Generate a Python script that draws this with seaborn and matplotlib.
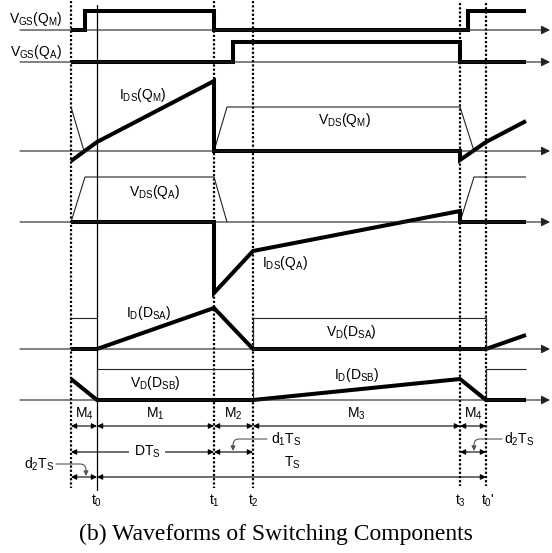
import matplotlib
matplotlib.use("Agg")
import matplotlib.pyplot as plt
import seaborn as sns

# ---- switching instants (time axis) ----
t_prev = 71            # start of the M4 interval of the previous cycle
t0, t1, t2, t3, t0p = 97, 214, 253, 460, 486
t_end = 526
edge_names = ["t_0", "t_1", "t_2", "t_3"]

# ---- waveforms: (time, level above baseline) ----
vgs_qm_t = [71, 85, 85, 214, 214, 468, 468, 526]
vgs_qm_v = [0, 0, 19, 19, 0, 0, 19, 19]

vgs_qa_t = [71, 233, 233, 460, 460, 526]
vgs_qa_v = [0, 0, 20, 20, 0, 0]

ids_qm_t = [71, 97, 214, 214, 460, 460, 486, 526]
ids_qm_v = [-10, 9, 70, 0, 0, -9, 9, 30]

vds_qm_t1 = [71, 84]
vds_qm_v1 = [44, 0]
vds_qm_t2 = [214, 227, 460, 474]
vds_qm_v2 = [0, 44, 44, 0]

vds_qa_t1 = [71, 85, 214, 227]
vds_qa_v1 = [0, 45, 45, 0]
vds_qa_t2 = [460, 474, 526]
vds_qa_v2 = [0, 45, 45]

ids_qa_t = [71, 214, 214, 253, 460, 460, 526]
ids_qa_v = [0, 0, -71, -29, 11, 0, 0]

id_dsa_t = [71, 97, 214, 253, 486, 526]
id_dsa_v = [0, 0, 41, 0, 0, 14]

vd_dsa_t1 = [71, 97]
vd_dsa_v1 = [31, 31]
vd_dsa_t2 = [253, 253, 486, 486]
vd_dsa_v2 = [0, 31, 31, 0]

id_dsb_t = [71, 97, 253, 460, 486, 526]
id_dsb_v = [21, 0, 0, 21, 0, 0]

vd_dsb_t1 = [97, 97, 253, 253]
vd_dsb_v1 = [0, 31, 31, 0]
vd_dsb_t2 = [486, 486, 526]
vd_dsb_v2 = [0, 31, 31]

# ---- style ----
sns.set_theme(style="white")
plt.rcParams["font.family"] = ["Liberation Sans", "DejaVu Sans"]
plt.rcParams["mathtext.fontset"] = "custom"
plt.rcParams["mathtext.rm"] = "Liberation Sans"
plt.rcParams["mathtext.it"] = "Liberation Sans"

W, H = 552, 553
fig = plt.figure(figsize=(W / 100, H / 100), dpi=100)
ax = fig.add_axes([0, 0, 1, 1])
ax.set_xlim(0, W)
ax.set_ylim(H, 0)
ax.axis("off")

THICK = 2.9
THIN = 0.8
INK = "black"
GREY = "#222222"
FS = 10

# baselines of the six traces
rows = {"vgs_qm": 30, "vgs_qa": 62, "qm": 151, "qa": 222, "dsa": 349, "dsb": 400}


def trace(times, levels, row, lw, color):
    base = rows[row]
    sns.lineplot(x=times, y=[base - v for v in levels], ax=ax, sort=False,
                 estimator=None, color=color, lw=lw,
                 solid_joinstyle="miter", solid_capstyle="butt")


def text(x, y, s, size=FS, **kw):
    ax.text(x, y, s, fontsize=size, ha="center", va="center", color=INK, **kw)


def m(s):
    return r"$\mathregular{" + s + "}$"


# horizontal axes with arrows
for y in rows.values():
    ax.annotate("", xy=(550, y), xytext=(20, y),
                arrowprops=dict(arrowstyle="-|>", color=GREY, lw=THIN,
                                mutation_scale=13, shrinkA=0, shrinkB=0))

# dotted switching markers and the solid t0 marker
for x in [t_prev, t1, t2]:
    ax.plot([x, x], [1, 488], color=INK, lw=1.6, linestyle=(0, (1, 0.9)))
for x in [t3, t0p]:
    ax.plot([x, x], [3, 486], color=INK, lw=1.6, linestyle=(0, (1, 0.9)))
ax.plot([t0, t0], [5, 490], color=INK, lw=0.9)

# thin (voltage) traces
trace(vds_qm_t1, vds_qm_v1, "qm", THIN, GREY)
trace(vds_qm_t2, vds_qm_v2, "qm", THIN, GREY)
trace(vds_qa_t1, vds_qa_v1, "qa", THIN, GREY)
trace(vds_qa_t2, vds_qa_v2, "qa", THIN, GREY)
trace(vd_dsa_t1, vd_dsa_v1, "dsa", THIN, GREY)
trace(vd_dsa_t2, vd_dsa_v2, "dsa", THIN, GREY)
trace(vd_dsb_t1, vd_dsb_v1, "dsb", THIN, GREY)
trace(vd_dsb_t2, vd_dsb_v2, "dsb", THIN, GREY)

# thick traces
trace(vgs_qm_t, vgs_qm_v, "vgs_qm", THICK, INK)
trace(vgs_qa_t, vgs_qa_v, "vgs_qa", THICK, INK)
trace(ids_qm_t, ids_qm_v, "qm", THICK, INK)
trace(ids_qa_t, ids_qa_v, "qa", THICK, INK)
trace(id_dsa_t, id_dsa_v, "dsa", THICK, INK)
trace(id_dsb_t, id_dsb_v, "dsb", THICK, INK)

# trace labels
text(36, 19, m("V_{GS}(Q_M)"))
text(36, 52, m("V_{GS}(Q_A)"))
text(143, 95, m("I_{DS}(Q_M)"))
text(345, 120, m("V_{DS}(Q_M)"))
text(155, 192, m("V_{DS}(Q_A)"))
text(285, 263, m("I_{DS}(Q_A)"))
text(149, 313, m("I_D(D_{SA})"))
text(351, 332, m("V_D(D_{SA})"))
text(155, 383, m("V_D(D_{SB})"))
text(357, 375, m("I_D(D_{SB})"))

# interval dimension arrows
dim = dict(arrowstyle="<|-|>", color=INK, lw=THIN, mutation_scale=8,
           shrinkA=0, shrinkB=0)


def span(x1, x2, y):
    ax.annotate("", xy=(x2, y), xytext=(x1, y), arrowprops=dim)


modes = [(t_prev, t0, "M_4"), (t0, t1, "M_1"), (t1, t2, "M_2"),
         (t2, t3, "M_3"), (t3, t0p, "M_4")]
for a, b, lab in modes:
    span(a, b, 426)
    text((a + b) / 2, 414, m(lab))

span(t_prev, t1, 452)
text(147, 452, m("DT_S"), bbox=dict(fc="white", ec="none", pad=3))
span(t1, t2, 452)
span(t3, t0p, 452)
span(t_prev, t0, 477)
span(t0, t0p, 477)
text(292, 463, m("T_S"))

# leaders for the short intervals
lead = dict(arrowstyle="-|>", color="#555555", lw=THIN, mutation_scale=7,
            shrinkA=0, shrinkB=0, connectionstyle="angle,angleA=0,angleB=90,rad=6")
ax.annotate("", xy=(233, 451), xytext=(267, 439), arrowprops=lead)
text(286, 439, m("d_1T_S"))
ax.annotate("", xy=(474, 451), xytext=(502, 439), arrowprops=lead)
text(519, 439, m("d_2T_S"))
ax.annotate("", xy=(86, 476), xytext=(56, 464), arrowprops=lead)
text(39, 464, m("d_2T_S"))

# instant labels
for x, lab in zip([t0, t1, t2, t3], edge_names):
    text(x, 501, m(lab))
text(t0p + 2, 501, m("t_0") + "'")

# caption
ax.text(W / 2, 534, "(b) Waveforms of Switching Components", fontsize=17,
        family=["Liberation Serif", "DejaVu Serif"], ha="center", va="center",
        color=INK)

fig.savefig("out.png", dpi=100)
